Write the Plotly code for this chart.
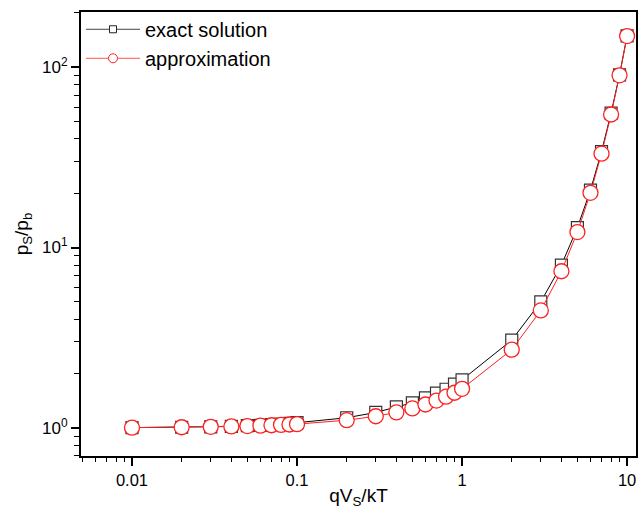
import plotly.graph_objects as go

x_vals = [0.01, 0.02, 0.03, 0.04, 0.05, 0.06, 0.07, 0.08, 0.09, 0.1,
          0.2, 0.3, 0.4, 0.5, 0.6, 0.7, 0.8, 0.9, 1.0,
          2, 3, 4, 5, 6, 7, 8, 9, 10]
exact = [1.005, 1.01, 1.015, 1.02, 1.03, 1.035, 1.045, 1.05, 1.06, 1.07,
         1.14, 1.22, 1.31, 1.38, 1.47, 1.56, 1.64, 1.75, 1.85,
         3.07, 5.0, 8.0, 12.9, 20.8, 34.0, 55.6, 90.6, 149.0]
approx = [1.005, 1.010, 1.015, 1.020, 1.025, 1.030, 1.036, 1.041, 1.046, 1.051,
          1.105, 1.162, 1.221, 1.284, 1.350, 1.419, 1.492, 1.568, 1.649,
          2.718, 4.482, 7.389, 12.18, 20.09, 33.12, 54.6, 90.0, 148.4]

x_ticks = [0.01, 0.1, 1, 10]
x_ticklabels = ["0.01", "0.1", "1", "10"]
y_ticks = [1, 10, 100]
y_ticklabels = ["10<sup>0</sup>", "10<sup>1</sup>", "10<sup>2</sup>"]

x_minor = [m * 10 ** e for e in (-3, -2, -1, 0, 1) for m in range(2, 10)]
y_minor = [m * 10 ** e for e in (-1, 0, 1, 2) for m in range(2, 10)]

font = "Liberation Sans, Arial, sans-serif"

fig = go.Figure()
fig.add_trace(go.Scatter(
    x=x_vals, y=exact, name="exact solution", mode="lines+markers",
    line=dict(color="black", width=1), showlegend=False,
    marker=dict(symbol="square", size=12, color="white",
                line=dict(color="#333333", width=1.2)),
))
fig.add_trace(go.Scatter(
    x=x_vals, y=approx, name="approximation", mode="lines+markers",
    line=dict(color="#ff2020", width=1), showlegend=False,
    marker=dict(symbol="circle", size=15, color="white",
                line=dict(color="#ff2020", width=1.3)),
))
# legend-only entries (smaller legend symbols as in the reference)
fig.add_trace(go.Scatter(
    x=[None], y=[None], name="exact solution", mode="lines+markers",
    line=dict(color="#444444", width=1),
    marker=dict(symbol="square", size=7, color="white",
                line=dict(color="#222222", width=1)),
))
fig.add_trace(go.Scatter(
    x=[None], y=[None], name="approximation", mode="lines+markers",
    line=dict(color="#ff5555", width=1),
    marker=dict(symbol="circle", size=9, color="white",
                line=dict(color="#ff2020", width=1)),
))

fig.update_layout(
    width=639, height=509,
    margin=dict(l=81, r=3, t=12, b=53, autoexpand=False),
    paper_bgcolor="white", plot_bgcolor="white",
    font=dict(family=font, size=16, color="black"),
    showlegend=True,
    legend=dict(x=0.0, y=1.005, xanchor="left", yanchor="top",
                bgcolor="rgba(0,0,0,0)", font=dict(size=20, family=font),
                itemwidth=54, tracegroupgap=0),
)
fig.update_xaxes(
    type="log", range=[-2.309, 1.054],
    tickmode="array", tickvals=x_ticks, ticktext=x_ticklabels,
    ticks="outside", ticklen=8, tickwidth=1.5, tickcolor="black",
    showline=True, linecolor="black", linewidth=2, mirror=True,
    showgrid=False, zeroline=False, automargin=False,
    minor=dict(tickmode="array", tickvals=x_minor, ticks="outside",
               ticklen=4, tickwidth=1.2, tickcolor="black", showgrid=False),
    title=dict(text="qV<sub>S</sub>/kT", font=dict(size=19, family=font), standoff=4),
    tickfont=dict(size=16.5, family=font),
)
fig.update_yaxes(
    type="log", range=[-0.155, 2.305],
    tickmode="array", tickvals=y_ticks, ticktext=y_ticklabels,
    ticks="outside", ticklen=8, tickwidth=1.5, tickcolor="black",
    showline=True, linecolor="black", linewidth=2, mirror=True,
    showgrid=False, zeroline=False, automargin=False,
    minor=dict(tickmode="array", tickvals=y_minor, ticks="outside",
               ticklen=5, tickwidth=1.2, tickcolor="black", showgrid=False),
    title=dict(text="p<sub>S</sub>/p<sub>b</sub>", font=dict(size=19, family=font), standoff=8),
    tickfont=dict(size=17, family=font),
)

fig.write_html("out.html", config={"displayModeBar": False},
               post_script="document.body.style.margin='0';")
